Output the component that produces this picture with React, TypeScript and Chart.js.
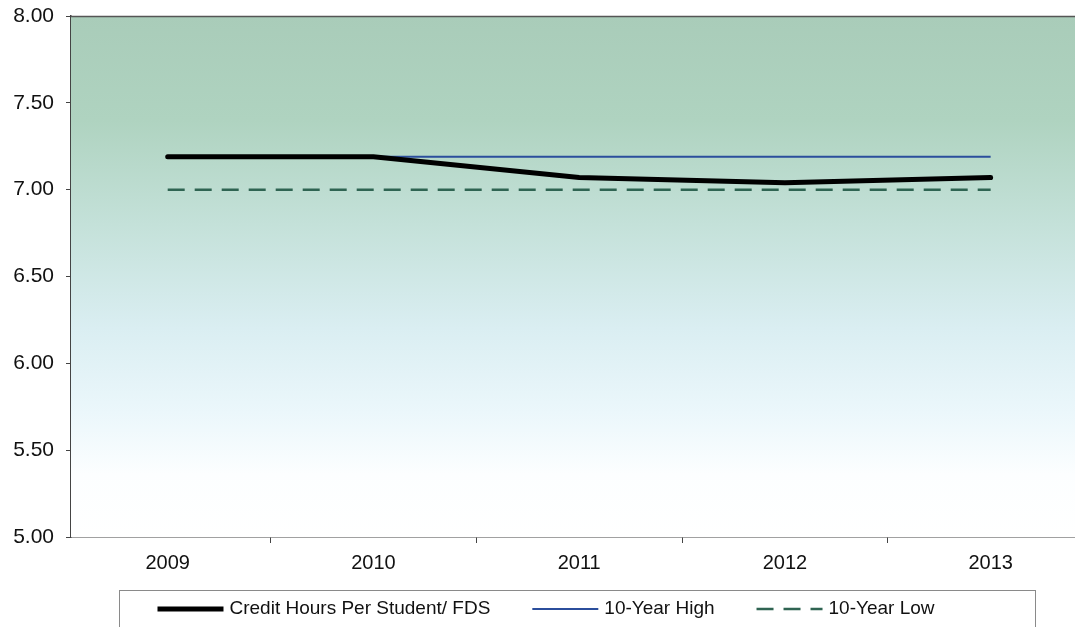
import React, { useEffect, useRef } from "react";
import { Chart, registerables } from "chart.js";

Chart.register(...registerables);

const years = [2009, 2010, 2011, 2012, 2013];
const creditHours = [7.19, 7.19, 7.07, 7.04, 7.07];
const tenYearHigh = [7.19, 7.19, 7.19, 7.19, 7.19];
const tenYearLow = [7.0, 7.0, 7.0, 7.0, 7.0];
const seriesLabels = ["Credit Hours Per Student/ FDS", "10-Year High", "10-Year Low"];
const yTicks = [5.0, 5.5, 6.0, 6.5, 7.0, 7.5, 8.0];

const FONT = "'Liberation Sans', Arial, sans-serif";

const plotDecor = {
  id: "plotDecor",
  beforeDatasetsDraw(chart: any) {
    const { ctx, chartArea } = chart;
    const { left, top, right, bottom } = chartArea;
    ctx.save();
    const g = ctx.createLinearGradient(0, top, 0, bottom);
    g.addColorStop(0, "#a9ccb9");
    g.addColorStop(0.2, "#afd3c0");
    g.addColorStop(0.4, "#c4e1d9");
    g.addColorStop(0.6, "#daeef2");
    g.addColorStop(0.76, "#ebf7fb");
    g.addColorStop(0.88, "#fcfeff");
    g.addColorStop(1, "#ffffff");
    ctx.fillStyle = g;
    ctx.fillRect(left, top, right - left, bottom - top);
    ctx.strokeStyle = "#555555";
    ctx.lineWidth = 1.5;
    ctx.beginPath();
    ctx.moveTo(left, top + 0.5);
    ctx.lineTo(right, top + 0.5);
    ctx.stroke();
    ctx.restore();
  },
  afterDraw(chart: any) {
    // Legend drawn from the chart's own datasets
    const { ctx, chartArea } = chart;
    const datasets = chart.data.datasets;
    const fontSize = 19;
    const sampleW = 66;
    const textGap = 6;
    const itemGap = 42;
    ctx.save();
    ctx.font = `${fontSize}px ${FONT}`;
    const widths = datasets.map((d: any) => ctx.measureText(d.label).width);
    const total =
      widths.reduce((a: number, b: number) => a + b, 0) +
      datasets.length * (sampleW + textGap) +
      (datasets.length - 1) * itemGap;
    const center = (chartArea.left + chartArea.right) / 2 - 27;
    const startX = center - total / 2;
    const cy = chartArea.bottom + 72;
    const boxTop = chartArea.bottom + 53;
    ctx.strokeStyle = "#8a8a8a";
    ctx.lineWidth = 1;
    const bl = Math.round(startX - 38) + 0.5;
    const br = Math.round(startX + total + 100) + 0.5;
    ctx.strokeRect(bl, Math.round(boxTop) + 0.5, br - bl, 70);
    let x = startX;
    datasets.forEach((d: any, i: number) => {
      ctx.save();
      ctx.strokeStyle = d.borderColor;
      ctx.lineWidth = d.borderWidth;
      ctx.setLineDash(d.borderDash ? d.borderDash : []);
      ctx.lineCap = "butt";
      ctx.beginPath();
      ctx.moveTo(x, cy);
      ctx.lineTo(x + sampleW, cy);
      ctx.stroke();
      ctx.restore();
      ctx.fillStyle = "#111111";
      ctx.textAlign = "left";
      ctx.textBaseline = "middle";
      ctx.fillText(d.label, x + sampleW + textGap, cy);
      x += sampleW + textGap + widths[i] + itemGap;
    });
    ctx.restore();
  },
};

export default function App() {
  const ref = useRef<HTMLCanvasElement | null>(null);
  useEffect(() => {
    document.body.style.margin = "0";
    const canvas = ref.current;
    if (!canvas) return;
    const mk = (vals: number[]) => years.map((x, i) => ({ x, y: vals[i] }));
    const chart = new Chart(canvas, {
      type: "line",
      data: {
        datasets: [
          {
            label: seriesLabels[0],
            data: mk(creditHours),
            borderColor: "#000000",
            backgroundColor: "#000000",
            borderWidth: 5,
            pointRadius: 0,
            borderCapStyle: "round",
            tension: 0,
            order: 0,
          },
          {
            label: seriesLabels[1],
            data: mk(tenYearHigh),
            borderColor: "#2b4e9c",
            backgroundColor: "#2b4e9c",
            borderWidth: 2,
            pointRadius: 0,
            order: 1,
          },
          {
            label: seriesLabels[2],
            data: mk(tenYearLow),
            borderColor: "#2f6452",
            backgroundColor: "#2f6452",
            borderWidth: 2.5,
            borderDash: [17, 10],
            pointRadius: 0,
            order: 2,
          },
        ],
      },
      options: {
        animation: false,
        responsive: false,
        maintainAspectRatio: false,
        layout: { padding: { top: 16, right: 0, left: 0, bottom: 50 } },
        plugins: {
          tooltip: { enabled: false },
          legend: { display: false },
        },
        scales: {
          x: {
            type: "linear",
            min: 2008.53,
            max: 2013.41,
            afterBuildTicks(scale: any) {
              scale.ticks = years.map((v) => ({ value: v }));
            },
            afterFit(scale: any) {
              scale.height = 40;
              scale.paddingLeft = 0;
              scale.paddingRight = 0;
            },
            ticks: {
              color: "#111111",
              font: { family: FONT, size: 20 },
              padding: 8,
              maxRotation: 0,
              callback: (v: any) => String(v),
            },
            grid: {
              offset: true,
              drawOnChartArea: false,
              drawTicks: true,
              tickLength: 6,
              color: "#444444",
            },
            border: { color: "#444444", width: 1.5 },
          },
          y: {
            min: 5,
            max: 8,
            afterBuildTicks(scale: any) {
              scale.ticks = yTicks.map((v) => ({ value: v }));
            },
            afterFit(scale: any) {
              scale.width = 71;
              scale.paddingTop = 0;
              scale.paddingBottom = 0;
            },
            ticks: {
              color: "#111111",
              font: { family: FONT, size: 21 },
              padding: 12,
              callback: (v: any) => Number(v).toFixed(2),
            },
            grid: {
              drawOnChartArea: false,
              drawTicks: true,
              tickLength: 5,
              color: "#444444",
            },
            border: { color: "#444444", width: 1.5 },
          },
        },
      },
      plugins: [plotDecor],
    } as any);
    return () => chart.destroy();
  }, []);
  return (
    <div style={{ width: 1075, height: 627, overflow: "hidden", background: "#ffffff" }}>
      <canvas ref={ref} width={1075} height={627} style={{ display: "block" }} />
    </div>
  );
}
